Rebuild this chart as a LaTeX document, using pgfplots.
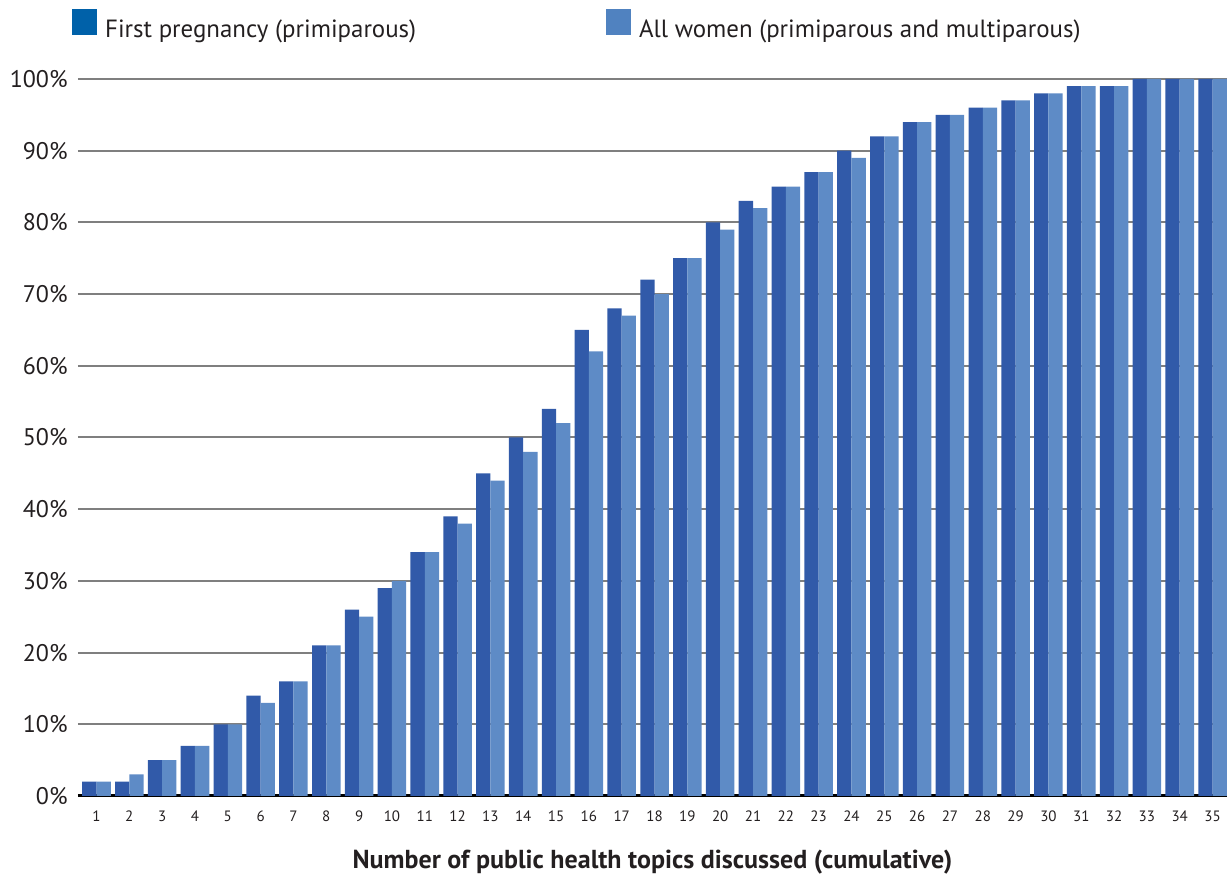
\documentclass[border=0pt]{standalone}
\usepackage{fontspec}
\setmainfont{PT Sans}
\usepackage{pgfplots}
\usepackage{pgfplotstable}
\pgfplotsset{compat=1.18}

\definecolor{firstbar}{HTML}{315AA9}
\definecolor{allbar}{HTML}{5E8BC6}
\definecolor{firstkey}{HTML}{0061A9}
\definecolor{allkey}{HTML}{5082C0}
\definecolor{txt}{HTML}{231F20}
\definecolor{gridgray}{HTML}{7F7F7F}

% cumulative share of women (%) by number of topics discussed
\pgfplotstableread{
n  first all
1  2   2
2  2   3
3  5   5
4  7   7
5  10  10
6  14  13
7  16  16
8  21  21
9  26  25
10 29  30
11 34  34
12 39  38
13 45  44
14 50  48
15 54  52
16 65  62
17 68  67
18 72  70
19 75  75
20 80  79
21 83  82
22 85  85
23 87  87
24 90  89
25 92  92
26 94  94
27 95  95
28 96  96
29 97  97
30 98  98
31 99  99
32 99  99
33 100 100
34 100 100
35 100 100
}\topics

\begin{document}
\begin{tikzpicture}
\path[use as bounding box] (-39pt,-40pt) rectangle (574.5pt,398pt);
\begin{axis}[
  at={(0pt,0pt)}, anchor=south west,
  scale only axis, width=574.5pt, height=358.5pt,
  xmin=0.436, xmax=35.44, ymin=0, ymax=100,
  axis x line*=bottom, axis y line*=left,
  x axis line style={black, line width=1.5pt, -},
  y axis line style={draw=none},
  major tick length=0pt,
  ymajorgrids, grid style={gridgray, line width=1pt},
  ytick={0,10,...,100},
  yticklabels={0\%,10\%,20\%,30\%,40\%,50\%,60\%,70\%,80\%,90\%,100\%},
  xtick={1,...,35},
  xticklabels={1,2,3,4,5,6,7,8,9,10,11,12,13,14,15,16,17,18,19,20,21,22,23,24,25,26,27,28,29,30,31,32,33,34,35},
  yticklabel style={font=\fontsize{12}{14}\selectfont, text=txt, inner sep=0pt, xshift=-5pt},
  xticklabel style={font=\fontsize{7.5}{9}\selectfont, text=txt, anchor=base, inner sep=0pt, yshift=-12.85pt},
  xlabel={Number of public health topics discussed (cumulative)},
  xlabel style={at={(rel axis cs:0.5,0)}, anchor=base, yshift=-36.5pt,
    font=\bfseries\fontsize{13}{15}\selectfont, text=txt},
  legend columns=2,
  legend style={draw=none, fill=none, at={(rel axis cs:0,1)}, anchor=south west,
    xshift=-3pt, yshift=19pt, inner sep=0pt, text=txt,
    font=\fontsize{12.45}{14}\selectfont, nodes={inner sep=0pt},
    /tikz/every odd column/.append style={column sep=4pt},
    /tikz/every even column/.append style={column sep=95pt}},
  clip=false,
]
\addlegendimage{legend image code/.code={\fill[firstkey] (0pt,-2pt) rectangle (12pt,10.5pt);}}
\addlegendentry{First pregnancy (primiparous)}
\addlegendimage{legend image code/.code={\fill[allkey] (0pt,-2pt) rectangle (12pt,10.5pt);}}
\addlegendentry{All women (primiparous and multiparous)}

\addplot[ybar, forget plot, fill=firstbar, draw=none, bar width=0.435, bar shift=-0.2175]
  table[x=n, y=first] {\topics};
\addplot[ybar, forget plot, fill=allbar, draw=none, bar width=0.435, bar shift=0.2175]
  table[x=n, y=all] {\topics};
\end{axis}
\end{tikzpicture}
\end{document}
